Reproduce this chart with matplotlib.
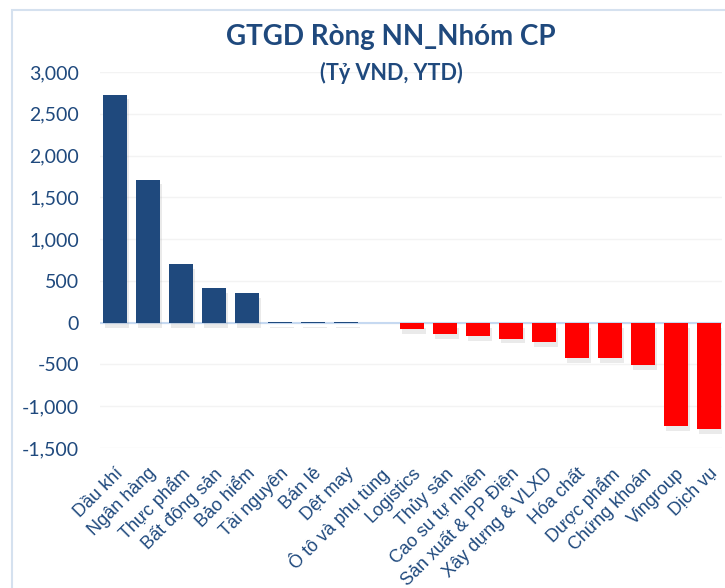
import matplotlib.pyplot as plt
import matplotlib.patheffects as pe
from matplotlib.patches import Rectangle
from matplotlib.ticker import FuncFormatter

categories = ['Dầu khí', 'Ngân hàng', 'Thực phẩm', 'Bất động sản', 'Bảo hiểm',
              'Tài nguyên', 'Bán lẻ', 'Dệt may', 'Ô tô và phụ tùng', 'Logistics',
              'Thủy sản', 'Cao su tự nhiên', 'Sản xuất & PP Điện', 'Xây dựng & VLXD',
              'Hóa chất', 'Dược phẩm', 'Chứng khoán', 'Vingroup', 'Dịch vụ']
values = [2730, 1713, 697, 410, 351, 12, 12, 12, -2, -76,
          -133, -161, -190, -234, -427, -427, -504, -1242, -1278]
yticks = [-1500, -1000, -500, 0, 500, 1000, 1500, 2000, 2500, 3000]

navy = '#1F497D'
fig = plt.figure(figsize=(7.25, 5.88), dpi=100)
# vung ve: x 100..722 px, y 72..448 px
ax = fig.add_axes([100 / 725, 140 / 588, 622 / 725, 376 / 588])

x = range(len(categories))
colors = [navy if v >= 0 else '#FF0000' for v in values]
bars = ax.bar(x, values, width=0.73, color=colors, zorder=3)
for b in bars:
    b.set_path_effects([pe.SimplePatchShadow(offset=(1.5, -3.5), shadow_rgbFace='#A0A0A0', alpha=0.22),
                        pe.Normal()])

ax.set_ylim(-1500, 3000)
ax.set_xlim(-0.45, len(categories) - 0.6)
ax.set_yticks(yticks)
ax.yaxis.set_major_formatter(FuncFormatter(lambda v, p: f'{int(v):,}'))
ax.grid(axis='y', color='#F3F3F3', lw=1, zorder=0)
ax.axhline(0, color='#C6D9F1', lw=1.5, zorder=2)
for s in ax.spines.values():
    s.set_visible(False)
ax.tick_params(length=0)
ax.tick_params(axis='y', labelsize=14, labelcolor=navy, pad=15)
for t in ax.get_yticklabels():
    t.set_family('Lato')

ax.set_xticks(list(x))
ax.set_xticklabels(categories, rotation=45, ha='right', rotation_mode='anchor',
                   fontsize=13, color=navy, family='Liberation Sans')
ax.tick_params(axis='x', pad=12)

fig.text(391 / 725, 1 - 37 / 588, 'GTGD Ròng NN_Nhóm CP', ha='center', va='center',
         fontsize=20, fontweight='bold', color=navy, family='Lato')
fig.text(391 / 725, 1 - 73 / 588, '(Tỷ VND, YTD)', ha='center', va='center',
         fontsize=15.5, fontweight='bold', color=navy, family='Lato')

fig.patches.append(Rectangle((12 / 725, -0.1), 1.2, 1.1 - 10 / 588, transform=fig.transFigure,
                             fill=False, edgecolor='#D5E1EF', lw=1.5))

fig.savefig('out.png', dpi=100)
